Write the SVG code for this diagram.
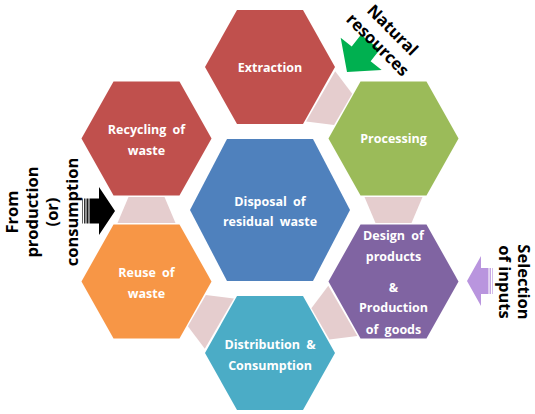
<svg xmlns="http://www.w3.org/2000/svg" xmlns:xlink="http://www.w3.org/1999/xlink" width="535" height="414" viewBox="0 0 535 414">
<style>
.hl{font-family:"Open Sans","Noto Sans","Liberation Sans",sans-serif;font-weight:700;font-size:12.5px;fill:#fff;text-anchor:middle;word-spacing:3px}
.ext{font-family:"Open Sans","Noto Sans","Liberation Sans",sans-serif;font-weight:700;font-size:16.5px;fill:#000;text-anchor:middle}
.link{fill:#E5CDCE}
</style>
<defs>
<polygon id="hexS" points="-65,0 -33,-57 33,-57 65,0 33,57 -33,57"/>
</defs>
<rect width="535" height="414" fill="#fff"/>
<g id="connectors">
<polygon class="link" points="306.1,121.4 335.2,71.2 352.2,93.8 334.1,124.9"/>
<polygon class="link" points="364.5,197 422.5,197 411.5,223 375.5,223"/>
<polygon class="link" points="328.3,285.7 357.4,335.9 329.4,339.4 311.4,308.3"/>
<polygon class="link" points="233.9,298.6 204.8,348.8 187.9,326.2 205.9,295.1"/>
<polygon class="link" points="175.5,223 117.5,223 128.5,197 164.5,197"/>
<polygon fill="#00B050" transform="translate(347,72) rotate(128)" points="-38,-12 -23,-12 -23,-26 0,0 -23,26 -23,12 -38,12"/>
<g id="arrow-left">
<rect x="82" y="198.5" width="1" height="25" fill="#666"/>
<rect x="84" y="198.5" width="1.5" height="25" fill="#333"/>
<rect x="86.5" y="198.5" width="2" height="25" fill="#1a1a1a"/>
<polygon fill="#000" points="89.5,198.5 99,198.5 99,187 115,211 99,235 99,223.5 89.5,223.5"/>
</g>
<g id="arrow-right">
<polygon fill="#B995DE" points="467,281 481,256 481,268 488.5,268 488.5,294 481,294 481,306"/>
<rect x="489.5" y="268" width="1.5" height="26" fill="#C6A8E4"/>
<rect x="492" y="268" width="1" height="26" fill="#D3BCEA"/>
</g>
</g>
<g id="extraction">
<use xlink:href="#hexS" href="#hexS" x="270" y="67" fill="#C0504D"/>
<text class="hl" x="270" y="71.5">Extraction</text>
</g>
<g id="processing">
<use xlink:href="#hexS" href="#hexS" x="393.5" y="138.5" fill="#9BBB59"/>
<text class="hl" x="393.5" y="143">Processing</text>
</g>
<g id="design">
<use xlink:href="#hexS" href="#hexS" x="393.5" y="281.5" fill="#8064A2"/>
<text class="hl" x="393.5" y="239.5">Design of</text>
<text class="hl" x="393.5" y="260.5">products</text>
<text class="hl" x="393.5" y="291.5">&amp;</text>
<text class="hl" x="393.5" y="311.5">Production</text>
<text class="hl" x="393.5" y="334">of goods</text>
</g>
<g id="distribution">
<use xlink:href="#hexS" href="#hexS" x="270" y="353" fill="#4BACC6"/>
<text class="hl" x="270" y="348.5">Distribution &amp;</text>
<text class="hl" x="270" y="369.5">Consumption</text>
</g>
<g id="reuse">
<use xlink:href="#hexS" href="#hexS" x="146.5" y="281.5" fill="#F79646"/>
<text class="hl" x="146.5" y="276.5">Reuse of</text>
<text class="hl" x="146.5" y="297.5">waste</text>
</g>
<g id="recycling">
<use xlink:href="#hexS" href="#hexS" x="146.5" y="138.5" fill="#C0504D"/>
<text class="hl" x="146.5" y="133.5">Recycling of</text>
<text class="hl" x="146.5" y="154.5">waste</text>
</g>
<g id="disposal">
<polygon fill="#4F81BD" points="190,210 227,139 313,139 350,210 313,281 227,281"/>
<text class="hl" x="270" y="206">Disposal of</text>
<text class="hl" x="270" y="225.5">residual waste</text>
</g>
<g id="natural-resources">
<text class="ext" transform="translate(385,37.5) rotate(45)"><tspan x="0" y="-5">Natural</tspan><tspan x="0" y="16">resources</tspan></text>
</g>
<g id="from-production">
<text class="ext" transform="translate(0,212) rotate(-90)"><tspan x="0" y="18">From</tspan><tspan x="0" y="38">production</tspan><tspan x="0" y="58">(or)</tspan><tspan x="0" y="77.5">consumption</tspan></text>
</g>
<g id="selection-of-inputs">
<text class="ext" transform="translate(509,282) rotate(90)"><tspan x="0" y="-9">Selection</tspan><tspan x="0" y="10">of inputs</tspan></text>
</g>
</svg>
